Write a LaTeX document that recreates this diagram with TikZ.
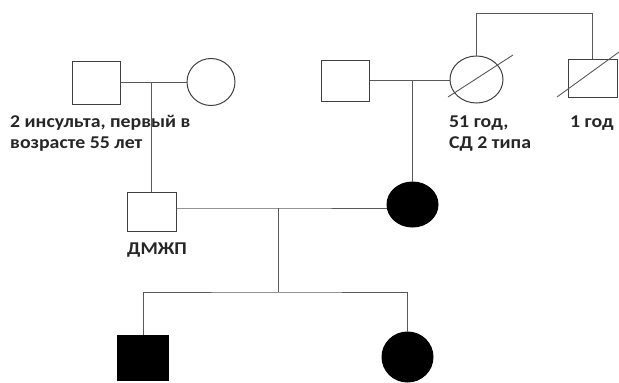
\documentclass[tikz,border=0pt]{standalone}
\usepackage{fontspec}
\setmainfont[FakeStretch=1.1]{Carlito}
\usetikzlibrary{shapes.geometric,calc}
\begin{document}
\begin{tikzpicture}[x=1pt,y=-1pt,
 sq/.style={draw=black!75, line width=1pt, rectangle, inner sep=0},
 ci/.style={draw=black!75, line width=1pt, ellipse, inner sep=0},
 aff/.style={fill=black, draw=black},
 ln/.style={draw=black!65, line width=0.9pt},
 lbl/.style={font=\fontsize{18}{21}\selectfont\bfseries, text=black!85, inner sep=0, align=left}]
\useasboundingbox (0,0) rectangle (619,383);
% generation I
\node[sq, minimum width=48pt, minimum height=43pt] (gf) at (96,82.5) {};
\node[ci, minimum width=48pt, minimum height=47pt] (gm) at (211,82) {};
\node[sq, minimum width=48pt, minimum height=41pt] (f2) at (345,80.5) {};
\node[ci, minimum width=53pt, minimum height=47pt] (c2) at (476.5,79.5) {};
\node[sq, minimum width=49pt, minimum height=38pt] (sq3) at (592.5,78) {};
% generation II
\node[sq, minimum width=49pt, minimum height=39pt] (d) at (151.5,211.5) {};
\node[ci, aff, minimum width=51pt, minimum height=45pt] (m) at (412.5,204.5) {};
% generation III
\node[sq, aff, minimum width=51pt, minimum height=45pt] (son) at (143,358) {};
\node[ci, aff, minimum width=51pt, minimum height=50pt] (dau) at (407.5,357) {};
% connectors
\draw[ln] (gf.east) -- (gf.east -| gm.west);
\draw[ln] (d.north) -- (d.north |- gf.east);
\draw[ln] (f2.east) -- (f2.east -| c2.west);
\draw[ln] (m.north) -- (m.north |- f2.east);
\coordinate (dm) at (278,208);
\coordinate (sib) at (278,292);
\draw[ln] (d.east |- dm) -- (dm) -- (dm -| m.west);
\draw[ln] (dm) -- (sib);
\draw[ln] (son.north) |- (sib) -| (dau.north);
\draw[ln] (c2.north) -- ++(0,-42) -| (sq3.north);
% deceased marks
\draw[ln] ($(c2)+(-28.5,17.5)$) -- ($(c2)+(36.5,-24.5)$);
\draw[ln] ($(sq3)+(-35.5,19)$) -- ($(sq3)+(26.5,-26)$);
% labels
\node[lbl, anchor=base west] (t1) at (10,148) {2 инсульта, первый в\\возрасте 55 лет};
\node[lbl, anchor=base west] (t2) at (449,148) {51 год,\\СД 2 типа};
\node[lbl, anchor=base west] (t3) at (570,127) {1 год};
\node[lbl, anchor=base west] (t4) at (127,254) {ДМЖП};
\end{tikzpicture}
\end{document}
